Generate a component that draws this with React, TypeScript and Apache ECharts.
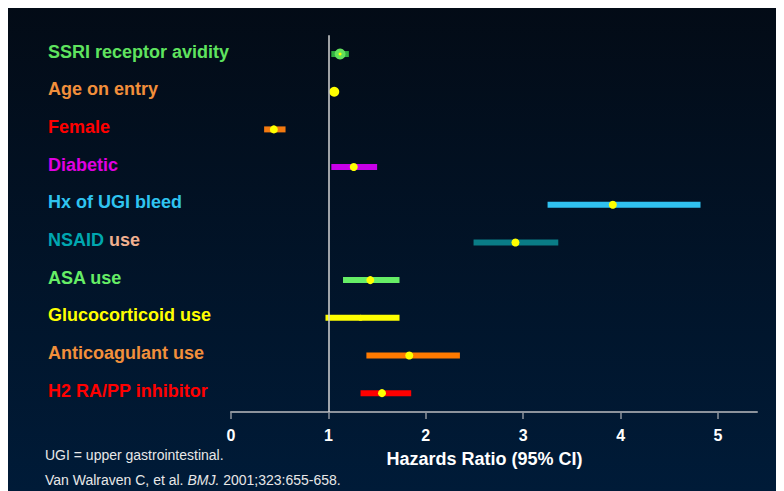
import React, { useEffect, useRef } from "react";
import * as echarts from "echarts";

const categories = [
  "SSRI receptor avidity",
  "Age on entry",
  "Female",
  "Diabetic",
  "Hx of UGI bleed",
  "NSAID use",
  "ASA use",
  "Glucocorticoid use",
  "Anticoagulant use",
  "H2 RA/PP inhibitor",
];
const hazardRatio = [1.12, 1.06, 0.44, 1.26, 3.92, 2.92, 1.43, 1.33, 1.83, 1.55];
const ciLow = [1.03, 1.05, 0.34, 1.03, 3.25, 2.49, 1.15, 0.97, 1.39, 1.33];
const ciHigh = [1.21, 1.07, 0.56, 1.5, 4.82, 3.36, 1.73, 1.73, 2.35, 1.85];
const referenceValue = 1;
const axisTitle = "Hazards Ratio (95% CI)";
const footnote1 = "UGI = upper gastrointestinal.";
const footnoteRefA = "Van Walraven C, et al. ";
const footnoteRefB = "BMJ.";
const footnoteRefC = " 2001;323:655-658.";

// styles
const labelColors = ["#5fe35f", "#f28f3b", "#ff0000", "#e000e0", "#2fc4f0", "#00a7b0", "#66ee66", "#ffff00", "#f28f3b", "#ff0000"];
const barColors = ["#2fae3f", "#ffff00", "#f47a10", "#c800e8", "#30c2f0", "#0a7c86", "#66ee66", "#ffff00", "#ff7a00", "#ff0000"];
const pointBorderColors = ["#62e05c", "#ffff00", "#ffff00", "#ffff00", "#ffff00", "#ffff00", "#ffff00", "#ffff00", "#ffff00", "#ffff00"];
const pointBorderWidths = [4, 0, 0, 0, 0, 0, 0, 0, 0, 0];
const pointSizes = [7, 10, 8, 8, 8, 8, 8, 6, 8, 8];

export default function App() {
  const ref = useRef<HTMLDivElement>(null);
  useEffect(() => {
    if (!ref.current) return;
    const chart = echarts.init(ref.current, null, { renderer: "svg" });
    const rich: any = {};
    labelColors.forEach((c, i) => {
      rich["c" + i] = { color: c, fontSize: 18, fontWeight: "bold", fontFamily: "Liberation Sans" };
    });
    rich.nsaid = { color: "#00a7b0", fontSize: 18, fontWeight: "bold", fontFamily: "Liberation Sans" };
    rich.use = { color: "#f0b090", fontSize: 18, fontWeight: "bold", fontFamily: "Liberation Sans" };

    const option: any = {
      animation: false,
      backgroundColor: {
        type: "linear",
        x: 0,
        y: 0,
        x2: 0,
        y2: 1,
        colorStops: [
          { offset: 0, color: "#030b16" },
          { offset: 1, color: "#001b38" },
        ],
      },
      grid: { left: 223, right: 27, top: 30.2, bottom: 79, containLabel: false },
      xAxis: {
        type: "value",
        min: 0,
        max: 5.4,
        interval: 1,
        axisLine: { show: true, lineStyle: { color: "#8c939c", width: 2 } },
        axisTick: { show: true, length: 7, lineStyle: { color: "#8c939c", width: 1.5 } },
        splitLine: { show: false },
        axisLabel: {
          color: "#ffffff",
          fontSize: 16,
          fontWeight: "bold",
          fontFamily: "Liberation Sans",
          margin: 15,
          showMaxLabel: false,
          formatter: (v: number) => (Number.isInteger(v) ? String(v) : ""),
        },
        name: axisTitle,
        nameLocation: "middle",
        nameGap: 38,
        nameTextStyle: {
          color: "#ffffff",
          fontSize: 18,
          fontWeight: "bold",
          fontFamily: "Liberation Sans",
          padding: [0, 19, 0, 0],
        },
      },
      yAxis: {
        type: "category",
        inverse: true,
        data: categories,
        axisLine: { show: false },
        axisTick: { show: false },
        splitLine: { show: false },
        axisLabel: {
          align: "left",
          margin: 183,
          padding: [0, 0, 5, 0],
          formatter: (value: string, index: number) => {
            if (value.startsWith("NSAID")) {
              const rest = value.slice(5);
              return "{nsaid|NSAID}{use|" + rest + "}";
            }
            return "{c" + index + "|" + value + "}";
          },
          rich,
        },
      },
      series: [
        {
          type: "custom",
          data: categories.map((_, i) => [ciLow[i], ciHigh[i], i]),
          encode: { x: [0, 1], y: 2 },
          renderItem: (params: any, api: any) => {
            const a = api.coord([api.value(0), api.value(2)]);
            const b = api.coord([api.value(1), api.value(2)]);
            return {
              type: "rect",
              shape: { x: a[0], y: a[1] - 3, width: Math.max(b[0] - a[0], 0), height: 6 },
              style: { fill: barColors[params.dataIndex] },
            };
          },
          z: 2,
        },
        {
          type: "scatter",
          data: hazardRatio.map((v, i) => ({
            value: [v, i],
            symbolSize: pointSizes[i],
            itemStyle: {
              color: "#ffff00",
              borderColor: pointBorderColors[i],
              borderWidth: pointBorderWidths[i],
              opacity: 1,
            },
          })),
          markLine: {
            silent: true,
            symbol: "none",
            label: { show: false },
            lineStyle: { color: "#d4d4d4", width: 1.5, type: "solid" },
            data: [{ xAxis: referenceValue }],
          },
          z: 3,
        },
      ],
      graphic: [
        {
          type: "text",
          left: 37,
          top: 443,
          style: {
            text: footnote1,
            fill: "#e8e8e8",
            font: "14px 'Liberation Sans'",
          },
        },
        {
          type: "text",
          left: 37,
          top: 468,
          style: {
            text: "{n|" + footnoteRefA + "}{i|" + footnoteRefB + "}{n|" + footnoteRefC + "}",
            rich: {
              n: { fill: "#e8e8e8", fontSize: 14, fontFamily: "Liberation Sans" },
              i: { fill: "#e8e8e8", fontSize: 14, fontFamily: "Liberation Sans", fontStyle: "italic" },
            },
          },
        },
      ],
    };
    chart.setOption(option);
    return () => chart.dispose();
  }, []);
  return (
    <div
      ref={ref}
      style={{ width: 776, height: 486, position: "relative", top: -3 }}
    />
  );
}
